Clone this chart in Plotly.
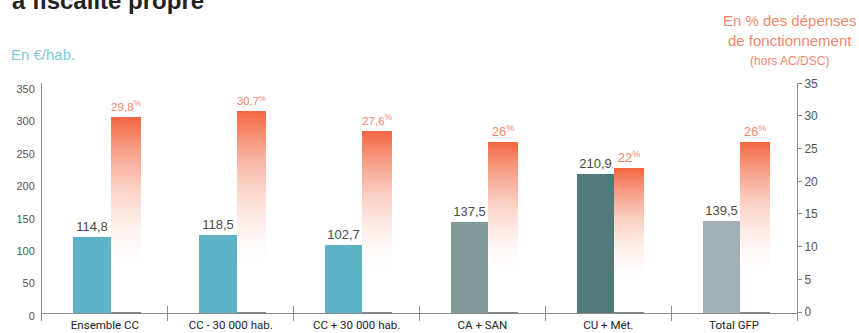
import plotly.graph_objects as go

# ---- data ----
categories = ["Ensemble CC", "CC - 30 000 hab.", "CC + 30 000 hab.", "CA + SAN", "CU + Mét.", "Total GFP"]
eur_per_hab = [114.8, 118.5, 102.7, 137.5, 210.9, 139.5]
pct_depenses = [29.8, 30.7, 27.6, 26.0, 22.0, 26.0]
left_ticks = [0, 50, 100, 150, 200, 250, 300, 350]
right_ticks = [0, 5, 10, 15, 20, 25, 30, 35]

# ---- style ----
teal_colors = ["#5fb3c7", "#5fb3c7", "#5fb3c7", "#7f9a9b", "#517979", "#a1b0b4"]
orange_top = (242, 102, 64)
W, H = 859, 333
ML, MR, MT, MB = 42, 62, 83, 12
PW, PH = W - ML - MR, H - MT - MB
CAT_FONT = "Liberation Sans Narrow, Arial Narrow, Roboto, Liberation Sans, sans-serif"
NUM_FONT = "Liberation Sans, Arial, sans-serif"


def px_x(x):
    return (x - ML) / PW


def px_y(y):
    return (H - MB - y) / PH


def fmt(v):
    if float(v).is_integer():
        return str(int(v))
    return f"{v:.1f}".replace(".", ",")


fig = go.Figure()

# teal bars (hidden axis y3)
fig.add_trace(go.Bar(
    x=categories, y=eur_per_hab, yaxis="y3",
    marker=dict(color=teal_colors, line=dict(width=0)),
    offset=-0.25, width=0.296,
    text=[fmt(v) for v in eur_per_hab], textposition="outside",
    textfont=dict(family=NUM_FONT, size=13, color="#4a4a4a"),
    cliponaxis=False, showlegend=False, hoverinfo="skip",
))

# orange gradient bars (hidden axis y4), built from stacked slices
N = 60
for k in range(N):
    p = 1 - (k + 0.5) / N  # fraction from top
    t = 1 - (1 - min(p / 0.82, 1)) ** 2
    r, g, b = [round(c * (1 - t) + 255 * t) for c in orange_top]
    top = (k == N - 1)
    fig.add_trace(go.Bar(
        x=categories,
        y=[v / N * (1 if top else 1.6) for v in pct_depenses],
        base=[v * k / N for v in pct_depenses],
        yaxis="y4",
        marker=dict(color=f"rgb({r},{g},{b})", line=dict(width=0)),
        offset=0.046, width=0.238,
        text=[fmt(v) + "<sup>%</sup>" for v in pct_depenses] if top else None,
        textposition="outside" if top else "none",
        textfont=dict(family=NUM_FONT, size=13, color="#f4876a"),
        cliponaxis=False, showlegend=False, hoverinfo="skip",
    ))

# thin grey foot under orange bars
fig.add_trace(go.Bar(
    x=categories, y=[0.25] * len(categories), base=[-0.1] * len(categories),
    yaxis="y4", marker=dict(color="#858585", line=dict(width=0)),
    offset=0.046, width=0.238, showlegend=False, hoverinfo="skip",
))

# invisible traces so that visible axes are drawn
fig.add_trace(go.Scatter(x=[categories[0]], y=[None], yaxis="y", mode="markers",
                         showlegend=False, hoverinfo="skip"))
fig.add_trace(go.Scatter(x=[categories[0]], y=[None], yaxis="y2", mode="markers",
                         showlegend=False, hoverinfo="skip"))

axis_col = "#8c8c8c"
fig.update_layout(
    width=W, height=H,
    margin=dict(l=ML, r=MR, t=MT, b=MB, autoexpand=False),
    paper_bgcolor="white", plot_bgcolor="white",
    barmode="overlay", bargap=0,
    xaxis=dict(
        type="category", categoryorder="array", categoryarray=categories,
        range=[-0.5, len(categories) - 0.5], automargin=False,
        tickson="boundaries", ticks="inside", ticklen=15, tickcolor=axis_col, tickwidth=1,
        ticklabelstandoff=-5,
        showline=False, showgrid=False, zeroline=False,
        tickfont=dict(family=CAT_FONT, size=11.5, color="#222222"),
    ),
    yaxis=dict(
        range=[-(321 - 316) / 0.649, (316 - 83) / 0.649], automargin=False,
        tickvals=left_ticks, ticktext=[str(v) for v in left_ticks],
        showline=True, linecolor=axis_col, linewidth=1,
        ticks="outside", ticklen=4, tickcolor="rgba(0,0,0,0)",
        showgrid=False, zeroline=False,
        tickfont=dict(family=NUM_FONT, size=11, color="#555555"),
    ),
    yaxis2=dict(
        overlaying="y", side="right", automargin=False,
        range=[-(321 - 312) / 6.534, (312 - 83) / 6.534],
        tickvals=right_ticks, ticktext=[str(v) for v in right_ticks],
        showline=True, linecolor=axis_col, linewidth=1,
        ticks="outside", ticklen=4, tickcolor=axis_col,
        showgrid=False, zeroline=False,
        tickfont=dict(family=NUM_FONT, size=12, color="#555555"),
    ),
    yaxis3=dict(
        overlaying="y", range=[-(321 - 313) / 0.661, (313 - 83) / 0.661], automargin=False,
        showticklabels=False, ticks="", showline=False, showgrid=False,
        zeroline=True, zerolinecolor=axis_col, zerolinewidth=1,
    ),
    yaxis4=dict(
        overlaying="y", range=[-(321 - 313) / 6.58, (313 - 83) / 6.58],
        visible=False, automargin=False,
    ),
    annotations=[
        dict(text="<b>à fiscalité propre</b>", xref="paper", yref="paper",
             x=px_x(10), y=px_y(1), xanchor="left", yanchor="middle", showarrow=False,
             font=dict(family=NUM_FONT, size=24, color="#222222")),
        dict(text="En €/hab.", xref="paper", yref="paper",
             x=px_x(9), y=px_y(55), xanchor="left", yanchor="middle", showarrow=False,
             font=dict(family=NUM_FONT, size=15, color="#7fc6d6")),
        dict(text="En % des dépenses<br>de fonctionnement<br><span style='font-size:12px'>(hors AC/DSC)</span>",
             xref="paper", yref="paper", x=px_x(789), y=px_y(10),
             xanchor="center", yanchor="top", align="center", showarrow=False,
             font=dict(family=NUM_FONT, size=15, color="#f4876a")),
    ],
)

fig.write_html("out.html")
